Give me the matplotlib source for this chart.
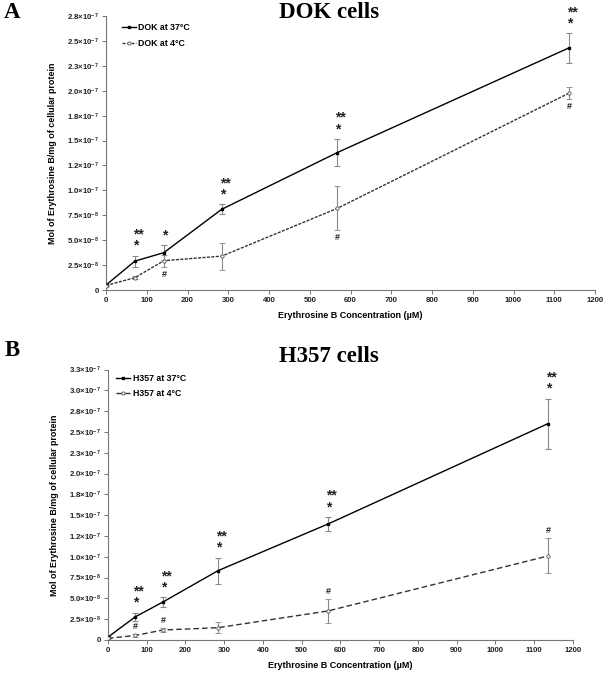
import matplotlib
matplotlib.use("Agg")
import matplotlib.pyplot as plt
from matplotlib.lines import Line2D

plt.rcParams['font.family'] = ['Liberation Sans', 'DejaVu Sans']
plt.rcParams['font.weight'] = 'bold'
plt.rcParams['mathtext.fontset'] = 'custom'
plt.rcParams['mathtext.rm'] = 'Liberation Sans:bold'
plt.rcParams['mathtext.it'] = 'Liberation Sans:bold'
plt.rcParams['mathtext.bf'] = 'Liberation Sans:bold'
plt.rcParams['mathtext.default'] = 'rm'

# ---------------- data ----------------
conc = [0, 71, 142, 284, 568, 1136]

dok_37 = [5e-9, 2.9e-8, 3.75e-8, 8.1e-8, 1.38e-7, 2.43e-7]
dok_37_err = [1e-9, 5.5e-9, 7.5e-9, 5e-9, 1.35e-8, 1.47e-8]
dok_4 = [4.5e-9, 1.24e-8, 2.94e-8, 3.4e-8, 8.2e-8, 1.975e-7]
dok_4_err = [1e-9, 1.5e-9, 6e-9, 1.35e-8, 2.2e-8, 6e-9]

h357_37 = [3.5e-9, 2.8e-8, 4.57e-8, 8.33e-8, 1.394e-7, 2.6e-7]
h357_37_err = [1e-9, 4.8e-9, 5.6e-9, 1.55e-8, 8.4e-9, 3.0e-8]
h357_4 = [2e-9, 5.5e-9, 1.2e-8, 1.48e-8, 3.49e-8, 1.01e-7]
h357_4_err = [1e-9, 1.5e-9, 2.5e-9, 6.6e-9, 1.4e-8, 2.1e-8]

# significance marks per concentration
dok_star = ["", "*", "*", "*", "*", "*"]
dok_dstar = ["", "**", "", "**", "**", "**"]
dok_hash = ["", "", "#", "", "#", "#"]
h357_star = ["", "*", "*", "*", "*", "*"]
h357_dstar = ["", "**", "**", "**", "**", "**"]
h357_hash = ["", "#", "#", "", "#", "#"]

xticks = [0, 100, 200, 300, 400, 500, 600, 700, 800, 900, 1000, 1100, 1200]
ytick_vals = [0, 2.5e-8, 5e-8, 7.5e-8, 1e-7, 1.25e-7, 1.5e-7, 1.75e-7, 2e-7,
              2.25e-7, 2.5e-7, 2.75e-7, 3e-7, 3.25e-7]
ytick_labels = ["0", "2.5×10$^{-8}$", "5.0×10$^{-8}$", "7.5×10$^{-8}$",
                "1.0×10$^{-7}$", "1.2×10$^{-7}$", "1.5×10$^{-7}$", "1.8×10$^{-7}$",
                "2.0×10$^{-7}$", "2.3×10$^{-7}$", "2.5×10$^{-7}$", "2.8×10$^{-7}$",
                "3.0×10$^{-7}$", "3.3×10$^{-7}$"]

W, H = 610, 682
fig = plt.figure(figsize=(W / 100, H / 100), dpi=100)


def make_ax(l, r, t, b):
    return fig.add_axes([l / W, 1 - b / H, (r - l) / W, (b - t) / H])


SP = '#777777'


def style(ax, nticks_y):
    for s in ['top', 'right']:
        ax.spines[s].set_visible(False)
    for s in ['left', 'bottom']:
        ax.spines[s].set_color(SP)
        ax.spines[s].set_linewidth(0.8)
    ax.set_xlim(0, 1200)
    ax.set_xticks(xticks)
    ax.set_xticklabels([str(v) for v in xticks])
    ax.set_yticks(ytick_vals[:nticks_y])
    ax.set_yticklabels(ytick_labels[:nticks_y])
    ax.set_ylim(0, ytick_vals[nticks_y - 1])
    ax.tick_params(axis='both', colors='#222222', labelsize=5.6, length=3,
                   width=0.7, pad=2, color=SP)
    ax.set_xlabel("Erythrosine B Concentration (µM)", fontsize=6.5,
                  fontweight='bold', labelpad=5)
    ax.set_ylabel("Mol of Erythrosine B/mg of cellular protein", fontsize=6.4,
                  fontweight='bold', labelpad=7)
    ax.patch.set_alpha(0)


def draw(ax, y37, e37, y4, e4, ls4, lab37, lab4, star, dstar, hsh, hash_above,
         leg_anchor, leg_space):
    ax.errorbar(conc, y37, yerr=e37, color='black', lw=1.0, marker='s', ms=1.8,
                mfc='black', mec='black', ecolor='#888888', elinewidth=0.8,
                capsize=2, capthick=0.8, zorder=3)
    ax.errorbar(conc, y4, yerr=e4, color='#333333', lw=1.0, ls=ls4, marker='o',
                ms=2.4, mfc='white', mec='#555555', mew=0.6, ecolor='#888888',
                elinewidth=0.8, capsize=2, capthick=0.8, zorder=3)
    for x, y, e, s, d in zip(conc, y37, e37, star, dstar):
        label = "\n".join([t for t in (d, s) if t])
        if label:
            ax.annotate(label, (x, y + e), xytext=(-2, 3), textcoords='offset pixels',
                        ha='left', va='bottom', multialignment='left',
                        linespacing=0.75, fontsize=10, color='#222222')
    for x, y, e, h in zip(conc, y4, e4, hsh):
        if h:
            if hash_above:
                ax.annotate(h, (x, y + e), xytext=(0, 3), textcoords='offset pixels',
                            ha='center', va='bottom', fontsize=6.5, color='#222222')
            else:
                ax.annotate(h, (x, y - e), xytext=(0, -3), textcoords='offset pixels',
                            ha='center', va='top', fontsize=6.5, color='#222222')
    handles = [Line2D([], [], color='black', lw=1.0, marker='s', ms=1.8, mfc='black'),
               Line2D([], [], color='#333333', lw=1.0, ls=ls4, marker='o', ms=2.3,
                      mfc='white', mec='#555555', mew=0.6)]
    ax.legend(handles, [lab37, lab4], loc='upper left', bbox_to_anchor=leg_anchor,
              frameon=False, fontsize=6.3, handlelength=1.6, handletextpad=0.25,
              labelspacing=leg_space, borderaxespad=0.3)


# Panel A
axA = make_ax(106, 595, 16, 290)
style(axA, 12)
draw(axA, dok_37, dok_37_err, dok_4, dok_4_err, (0, (2.2, 1.0)),
     "DOK at 37°C", "DOK at 4°C", dok_star, dok_dstar, dok_hash, False,
     (0.02, 0.995), 0.8)

# Panel B
axB = make_ax(108, 572.7, 369.6, 640)
style(axB, 14)
draw(axB, h357_37, h357_37_err, h357_4, h357_4_err, (0, (4.0, 2.2)),
     "H357 at 37°C", "H357 at 4°C", h357_star, h357_dstar, h357_hash, True,
     (0.005, 1.005), 0.65)

serif = ['Liberation Serif', 'DejaVu Serif']
fig.text(329 / W, 1 - 13 / H, "DOK cells", family=serif, fontweight='bold',
         fontsize=16.5, ha='center', va='center')
fig.text(329 / W, 1 - 356 / H, "H357 cells", family=serif, fontweight='bold',
         fontsize=16.5, ha='center', va='center')
fig.text(12 / W, 1 - 13 / H, "A", family=serif, fontweight='bold',
         fontsize=16.5, ha='center', va='center')
fig.text(12 / W, 1 - 350 / H, "B", family=serif, fontweight='bold',
         fontsize=16.5, ha='center', va='center')

fig.savefig("out.png", dpi=100)
